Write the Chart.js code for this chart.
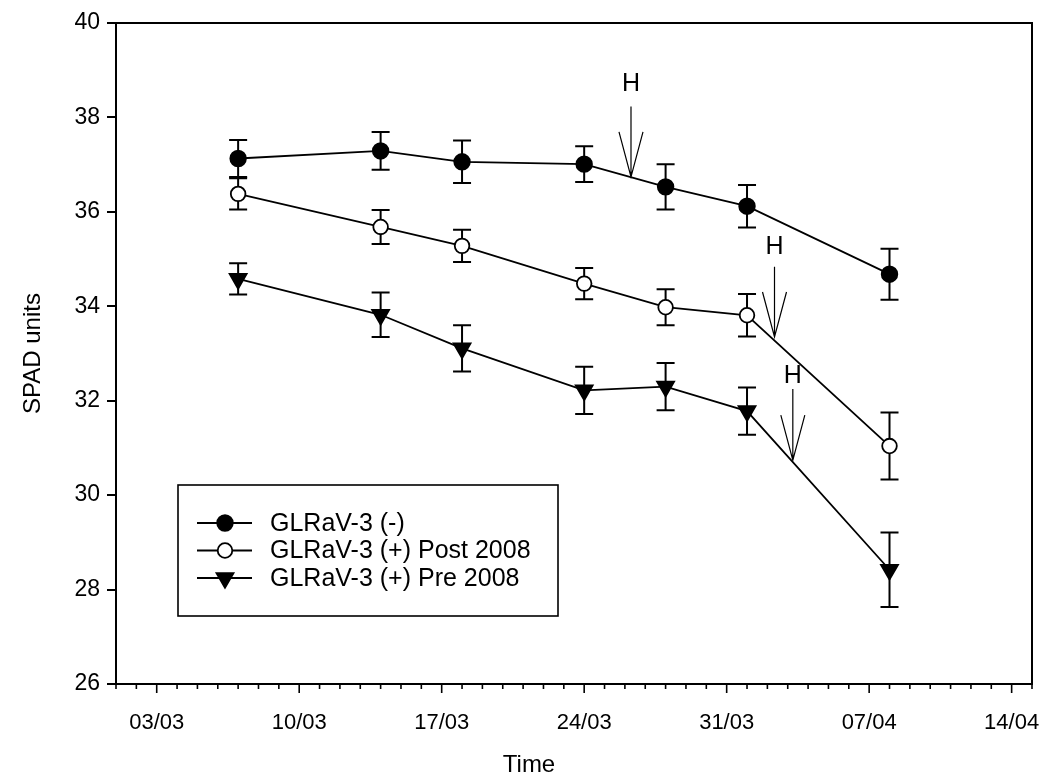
<!DOCTYPE html>
<html><head><meta charset="utf-8">
<script src="https://cdn.jsdelivr.net/npm/chart.js@4/dist/chart.umd.min.js"></script>
<style>html,body{margin:0;padding:0;background:#fff}#wrap{width:1044px;height:780px;position:relative}</style>
</head><body><div id="wrap"><canvas id="c"></canvas></div>
<script>
// ---- data ----
const sampleDates = ['07/03','14/03','18/03','24/03','28/03','01/04','08/04'];
const seriesNames = ['GLRaV-3 (-)','GLRaV-3 (+) Post 2008','GLRaV-3 (+) Pre 2008'];
const glrNeg     = [37.13,37.29,37.06,37.01,36.53,36.12,34.68];
const glrNegErr  = [0.39,0.40,0.45,0.38,0.48,0.45,0.54];
const glrPost    = [36.38,35.68,35.28,34.48,33.98,33.81,31.04];
const glrPostErr = [0.33,0.36,0.34,0.33,0.38,0.45,0.71];
const glrPre     = [34.58,33.82,33.11,32.22,32.30,31.78,28.42];
const glrPreErr  = [0.33,0.47,0.49,0.50,0.50,0.50,0.79];
const xTickLabels = ['03/03','10/03','17/03','24/03','31/03','07/04','14/04'];
const axisStart = '01/03', axisEnd = '15/04';
const yMin = 26, yMax = 40, yStep = 2;
const xTitle = 'Time', yTitle = 'SPAD units';
const harvestLabel = 'H';
const harvestDay   = [25.3, 32.35, 33.25];   // days after 01/03
const harvestTip   = [36.74, 33.35, 30.74];
const harvestTop   = [38.23, 34.84, 32.25];
const harvestTextY = [38.71, 35.26, 32.52];

// ---- helpers ----
const FONT = "'Liberation Sans', Arial, sans-serif";
function dayOf(s){const [d,m]=s.split('/').map(Number);const [d0,m0]=axisStart.split('/').map(Number);
  return Math.round((Date.UTC(2009,m-1,d)-Date.UTC(2009,m0-1,d0))/86400000);}
const sampleX = sampleDates.map(dayOf);
const labelMap = {}; xTickLabels.forEach(l=>labelMap[dayOf(l)]=l);
const mk = vals => vals.map((v,i)=>({x:sampleX[i], y:v}));
const AREA = {left:116, top:23, right:1032, bottom:684};
const PAD = {left:19, top:23, right:1044-1032, bottom:1};

const styles = [
  {pointStyle:'circle', r:7.8, fill:'#000', rot:0},
  {pointStyle:'circle', r:7.3, fill:'#fff', rot:0},
  {pointStyle:'triangle', r:9.8, fill:'#000', rot:180}
];
const seriesVals = [glrNeg, glrPost, glrPre];
const seriesErr = [glrNegErr, glrPostErr, glrPreErr];

const datasets = seriesVals.map((vals,k)=>({
  label: seriesNames[k], data: mk(vals), errors: seriesErr[k],
  borderColor:'#000', borderWidth:1.8, tension:0, fill:false,
  pointStyle: styles[k].pointStyle, pointRadius: styles[k].r, pointRotation: styles[k].rot,
  pointBackgroundColor: styles[k].fill, pointBorderColor:'#000', pointBorderWidth:1.8
}));

const customDraw = {
  id:'customDraw',
  beforeDatasetsDraw(chart){
    const ctx = chart.ctx, ys = chart.scales.y;
    ctx.save(); ctx.strokeStyle='#000'; ctx.lineWidth=2;
    chart.data.datasets.forEach((ds,k)=>{
      const meta = chart.getDatasetMeta(k);
      meta.data.forEach((pt,i)=>{
        const v = ds.data[i].y, e = ds.errors[i];
        const y1 = ys.getPixelForValue(v+e), y2 = ys.getPixelForValue(v-e), x = pt.x;
        ctx.beginPath();
        ctx.moveTo(x,y1); ctx.lineTo(x,y2);
        ctx.moveTo(x-9,y1); ctx.lineTo(x+9,y1);
        ctx.moveTo(x-9,y2); ctx.lineTo(x+9,y2);
        ctx.stroke();
      });
    });
    ctx.restore();
  },
  afterDraw(chart){
    const ctx = chart.ctx, xs = chart.scales.x, ys = chart.scales.y, a = chart.chartArea;
    ctx.save();
    ctx.strokeStyle='#000'; ctx.fillStyle='#000';
    // frame
    ctx.lineWidth = 2;
    ctx.strokeRect(a.left, a.top, a.right-a.left, a.bottom-a.top);
    // y ticks
    for(let v=yMin; v<=yMax; v+=yStep){
      const y = Math.round(ys.getPixelForValue(v));
      ctx.beginPath(); ctx.moveTo(a.left-9,y); ctx.lineTo(a.left,y); ctx.stroke();
    }
    // x ticks (daily minor, weekly major)
    ctx.lineWidth = 1.6;
    for(let d=dayOf(axisStart); d<=dayOf(axisEnd); d++){
      const x = xs.getPixelForValue(d);
      const len = labelMap[d] ? 9 : 5;
      ctx.beginPath(); ctx.moveTo(x,a.bottom); ctx.lineTo(x,a.bottom+len); ctx.stroke();
    }
    // x axis title
    ctx.font = `24px ${FONT}`; ctx.textAlign='center'; ctx.textBaseline='middle';
    ctx.fillText(xTitle, 529, 765);
    // harvest arrows
    ctx.lineWidth = 1.2;
    ctx.font = `25px ${FONT}`;
    harvestDay.forEach((d,i)=>{
      const x = xs.getPixelForValue(d);
      const yt = ys.getPixelForValue(harvestTip[i]);
      const y0 = ys.getPixelForValue(harvestTop[i]);
      ctx.beginPath();
      ctx.moveTo(x,y0); ctx.lineTo(x,yt);
      ctx.moveTo(x-12,yt-45); ctx.lineTo(x,yt); ctx.lineTo(x+12,yt-45);
      ctx.stroke();
      ctx.fillText(harvestLabel, x, ys.getPixelForValue(harvestTextY[i]));
    });
    // legend
    const L = {x:178, y:485, w:380, h:131, rows:[523,550.5,578]};
    ctx.lineWidth = 1.6;
    ctx.strokeRect(L.x, L.y, L.w, L.h);
    ctx.font = `25px ${FONT}`; ctx.textAlign='left'; ctx.textBaseline='middle';
    chart.data.datasets.forEach((ds,k)=>{
      const y = L.rows[k];
      ctx.lineWidth = 1.8; ctx.strokeStyle='#000';
      ctx.beginPath(); ctx.moveTo(197,y); ctx.lineTo(252,y); ctx.stroke();
      ctx.fillStyle = styles[k].fill;
      Chart.helpers.drawPoint(ctx, {pointStyle:styles[k].pointStyle, radius:styles[k].r, rotation:styles[k].rot, borderWidth:1.8}, 225, y);
      ctx.fillStyle='#000';
      ctx.fillText(ds.label, 270, y+1);
    });
    ctx.restore();
  }
};

new Chart(document.getElementById('c'), {
  type:'line',
  data:{datasets},
  options:{
    responsive:true, maintainAspectRatio:false, animation:false, events:[],
    layout:{padding:PAD},
    plugins:{legend:{display:false}, tooltip:{enabled:false}},
    scales:{
      x:{type:'linear', min:dayOf(axisStart), max:dayOf(axisEnd),
        afterBuildTicks: s => { s.ticks = xTickLabels.map(l=>({value:dayOf(l)})); },
        ticks:{autoSkip:false, maxRotation:0, minRotation:0, padding:18, color:'#000',
          font:{family:FONT, size:22}, callback:v => labelMap[v] ?? ''},
        grid:{display:false}, border:{display:false},
        title:{display:false},
        afterFit: s => { s.height = 780 - PAD.bottom - AREA.bottom; s.paddingLeft = 0; s.paddingRight = 0; }
      },
      y:{type:'linear', min:yMin, max:yMax,
        ticks:{stepSize:yStep, padding:8, color:'#000', font:{family:FONT, size:23}},
        grid:{display:false}, border:{display:false},
        title:{display:true, text:yTitle, color:'#000', font:{family:FONT, size:24}, padding:0},
        afterFit: s => { s.width = AREA.left - PAD.left; s.paddingTop = 0; s.paddingBottom = 0; }
      }
    }
  },
  plugins:[customDraw]
});
</script></body></html>
